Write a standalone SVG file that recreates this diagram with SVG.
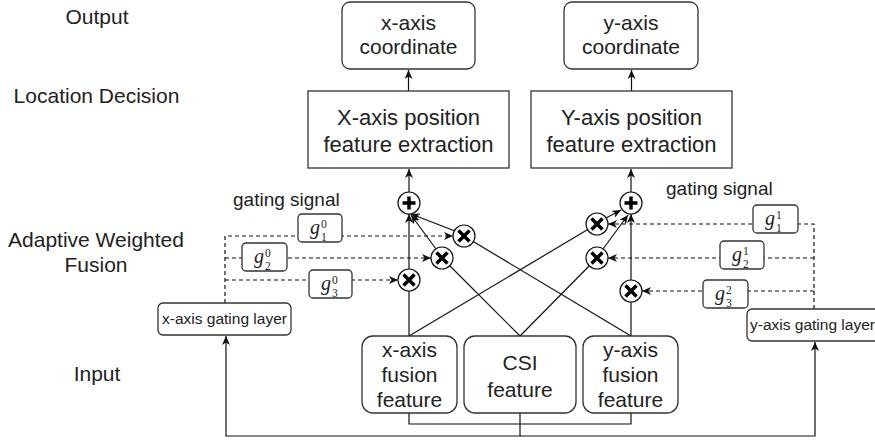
<svg xmlns="http://www.w3.org/2000/svg" width="875" height="443" viewBox="0 0 875 443">
<defs>
<marker id="arr" markerUnits="userSpaceOnUse" markerWidth="10" markerHeight="8" refX="9" refY="4" orient="auto">
<path d="M0,0 L9,4 L0,8 L2.5,4 Z" fill="#111"/>
</marker>
<style>
text{font-family:"Liberation Sans",Arial,sans-serif;fill:#222}
.big{font-size:21px;text-anchor:middle}
.fe{font-size:22px;text-anchor:middle}
.gs{font-size:19px}
.gl{font-size:15.5px}
.box{fill:#fff;stroke:#333;stroke-width:1.3}
.ln{fill:none;stroke:#111;stroke-width:1.2}
.dash{fill:none;stroke:#111;stroke-width:1.2;stroke-dasharray:4 3}
.op{fill:#fff;stroke:#111;stroke-width:1.2}
.sym{fill:none;stroke:#000;stroke-width:3.5}
.gm{font-family:"Liberation Serif","Times New Roman",serif;font-style:italic;font-size:20px}
.sc{font-style:normal;font-size:11.5px}
</style>
</defs>
<rect width="875" height="443" fill="#fff"/>

<g id="layer-labels">
<text class="big" x="97" y="24">Output</text>
<text class="big" x="96.5" y="103">Location Decision</text>
<text class="big" x="96" y="247">Adaptive Weighted</text>
<text class="big" x="96" y="272">Fusion</text>
<text class="big" x="97" y="381">Input</text>
<text class="gs" x="233" y="206">gating signal</text>
<text class="gs" x="666" y="195">gating signal</text>
</g>

<g id="connectors">
<line class="ln" x1="408.5" y1="91" x2="408.5" y2="70" marker-end="url(#arr)"/>
<line class="ln" x1="631.5" y1="91" x2="631.5" y2="70" marker-end="url(#arr)"/>
<line class="ln" x1="409" y1="192" x2="409" y2="169" marker-end="url(#arr)"/>
<line class="ln" x1="631" y1="192" x2="631" y2="169" marker-end="url(#arr)"/>
<line class="ln" x1="409" y1="336" x2="409" y2="214" marker-end="url(#arr)"/>
<line class="ln" x1="631" y1="336" x2="631" y2="214" marker-end="url(#arr)"/>
<line class="ln" x1="455" y1="231" x2="411" y2="214" marker-end="url(#arr)"/>
<line class="ln" x1="436" y1="249" x2="411" y2="215" marker-end="url(#arr)"/>
<line class="ln" x1="631" y1="336" x2="464" y2="236"/>
<line class="ln" x1="520" y1="336" x2="442" y2="258"/>
<line class="ln" x1="409" y1="336" x2="597" y2="224"/>
<line class="ln" x1="520" y1="336" x2="597" y2="258"/>
<line class="ln" x1="606" y1="218" x2="621" y2="210" marker-end="url(#arr)"/>
<line class="ln" x1="603" y1="249" x2="628" y2="215" marker-end="url(#arr)"/>
<path class="dash" d="M225,303 L225,236 L453,236" marker-end="url(#arr)"/>
<path class="dash" d="M225,258 L431,258" marker-end="url(#arr)"/>
<path class="dash" d="M225,280 L398,280" marker-end="url(#arr)"/>
<path class="dash" d="M814,309 L814,224 L608,224" marker-end="url(#arr)"/>
<path class="dash" d="M814,258 L608,258" marker-end="url(#arr)"/>
<path class="dash" d="M814,291 L642,291" marker-end="url(#arr)"/>
<path class="ln" d="M409,413 L409,424 L631,424 L631,413"/>
<path class="ln" d="M520,413 L520,436 L226,436 L226,336" marker-end="url(#arr)"/>
<path class="ln" d="M520,436 L815,436 L815,342" marker-end="url(#arr)"/>
</g>

<g id="x-coordinate">
<rect class="box" x="342" y="2" width="133" height="67" rx="8"/>
<text class="big" x="408.5" y="30">x-axis</text>
<text class="big" x="408.5" y="54">coordinate</text>
</g>
<g id="y-coordinate">
<rect class="box" x="564" y="2" width="134" height="67" rx="8"/>
<text class="big" x="631" y="30">y-axis</text>
<text class="big" x="631" y="54">coordinate</text>
</g>
<g id="x-feature-extraction">
<rect class="box" x="308" y="91" width="201" height="77"/>
<text class="fe" x="408.5" y="125">X-axis position</text>
<text class="fe" x="408.5" y="152">feature extraction</text>
</g>
<g id="y-feature-extraction">
<rect class="box" x="531" y="91" width="201" height="77"/>
<text class="fe" x="631.5" y="125">Y-axis position</text>
<text class="fe" x="631.5" y="152">feature extraction</text>
</g>

<g id="x-plus" transform="translate(409,203)">
<circle class="op" r="11"/><path class="sym" d="M-6.5,0 H6.5 M0,-6.5 V6.5"/>
</g>
<g id="x-mul1" transform="translate(464,236)">
<circle class="op" r="11"/><path class="sym" d="M-5.5,-5.5 L5.5,5.5 M5.5,-5.5 L-5.5,5.5"/>
</g>
<g id="x-mul2" transform="translate(442,258)">
<circle class="op" r="11"/><path class="sym" d="M-5.5,-5.5 L5.5,5.5 M5.5,-5.5 L-5.5,5.5"/>
</g>
<g id="x-mul3" transform="translate(409,280)">
<circle class="op" r="11"/><path class="sym" d="M-5.5,-5.5 L5.5,5.5 M5.5,-5.5 L-5.5,5.5"/>
</g>
<g id="y-plus" transform="translate(631,203)">
<circle class="op" r="11"/><path class="sym" d="M-6.5,0 H6.5 M0,-6.5 V6.5"/>
</g>
<g id="y-mul1" transform="translate(597,224)">
<circle class="op" r="11"/><path class="sym" d="M-5.5,-5.5 L5.5,5.5 M5.5,-5.5 L-5.5,5.5"/>
</g>
<g id="y-mul2" transform="translate(597,258)">
<circle class="op" r="11"/><path class="sym" d="M-5.5,-5.5 L5.5,5.5 M5.5,-5.5 L-5.5,5.5"/>
</g>
<g id="y-mul3" transform="translate(631,291)">
<circle class="op" r="11"/><path class="sym" d="M-5.5,-5.5 L5.5,5.5 M5.5,-5.5 L-5.5,5.5"/>
</g>

<g id="g1-0" transform="translate(298,214)">
<rect class="box" width="44" height="28" rx="4"/>
<text class="gm" x="12" y="20">g<tspan class="sc" x="23" y="14">0</tspan><tspan class="sc" x="23" y="27">1</tspan></text>
</g>
<g id="g2-0" transform="translate(242,243)">
<rect class="box" width="45" height="28" rx="4"/>
<text class="gm" x="12" y="20">g<tspan class="sc" x="23" y="14">0</tspan><tspan class="sc" x="23" y="27">2</tspan></text>
</g>
<g id="g3-0" transform="translate(309,270)">
<rect class="box" width="43" height="28" rx="4"/>
<text class="gm" x="12" y="20">g<tspan class="sc" x="23" y="14">0</tspan><tspan class="sc" x="23" y="27">3</tspan></text>
</g>
<g id="g1-1" transform="translate(753,205)">
<rect class="box" width="45" height="28" rx="4"/>
<text class="gm" x="12" y="20">g<tspan class="sc" x="23" y="14">1</tspan><tspan class="sc" x="23" y="27">1</tspan></text>
</g>
<g id="g2-1" transform="translate(720,241)">
<rect class="box" width="44" height="28" rx="4"/>
<text class="gm" x="12" y="20">g<tspan class="sc" x="23" y="14">1</tspan><tspan class="sc" x="23" y="27">2</tspan></text>
</g>
<g id="g3-2" transform="translate(703,280)">
<rect class="box" width="45" height="28" rx="4"/>
<text class="gm" x="12" y="20">g<tspan class="sc" x="23" y="14">2</tspan><tspan class="sc" x="23" y="27">3</tspan></text>
</g>

<g id="x-gating-layer">
<rect class="box" x="158" y="303" width="133" height="32" rx="5"/>
<text class="gl" x="224.5" y="324" text-anchor="middle">x-axis gating layer</text>
</g>
<g id="y-gating-layer">
<rect class="box" x="747" y="309" width="140" height="32" rx="5"/>
<text class="gl" x="750" y="330">y-axis gating layer</text>
</g>

<g id="x-fusion-feature">
<rect class="box" x="362" y="336" width="95" height="77" rx="11"/>
<text class="big" x="409.5" y="357">x-axis</text>
<text class="big" x="409.5" y="382">fusion</text>
<text class="big" x="409.5" y="407">feature</text>
</g>
<g id="csi-feature">
<rect class="box" x="464" y="336" width="112" height="77" rx="11"/>
<text class="big" x="520" y="370">CSI</text>
<text class="big" x="520" y="397">feature</text>
</g>
<g id="y-fusion-feature">
<rect class="box" x="583" y="336" width="95" height="77" rx="11"/>
<text class="big" x="630.5" y="357">y-axis</text>
<text class="big" x="630.5" y="382">fusion</text>
<text class="big" x="630.5" y="407">feature</text>
</g>
</svg>
